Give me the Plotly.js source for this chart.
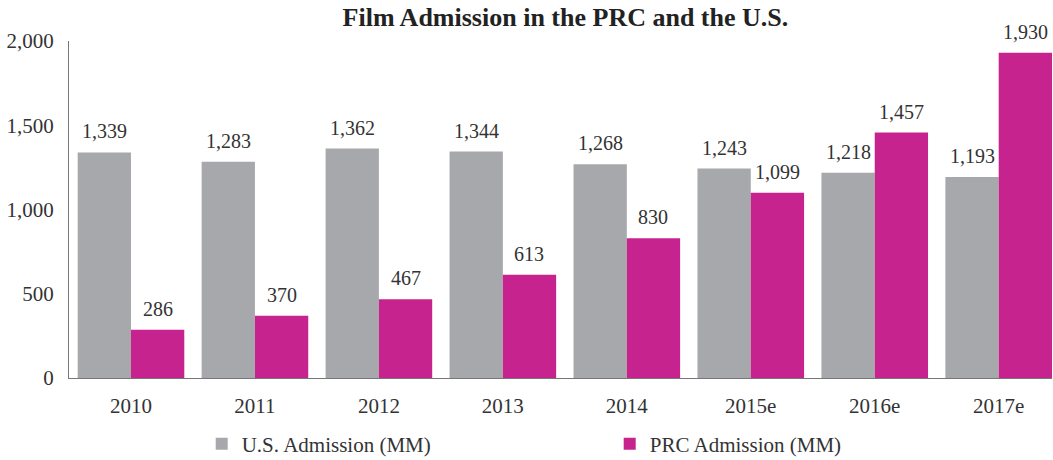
<!DOCTYPE html>
<html>
<head>
<meta charset="utf-8">
<script src="https://cdn.plot.ly/plotly-3.0.1.min.js"></script>
<style>
  html, body { margin: 0; padding: 0; background: #fff; }
  #chart { width: 1053px; height: 460px; }
</style>
</head>
<body>
<div id="chart"></div>
<script>
const years = ['2010', '2011', '2012', '2013', '2014', '2015e', '2016e', '2017e'];
const usAdmission = [1339, 1283, 1362, 1344, 1268, 1243, 1218, 1193];
const prcAdmission = [286, 370, 467, 613, 830, 1099, 1457, 1930];

const fmt = v => v.toLocaleString('en-US');
const serif = 'Liberation Serif';

const traces = [
    {
        name: 'U.S. Admission (MM)',
        type: 'bar',
        x: years,
        y: usAdmission,
        marker: { color: '#a7a8ab' }
    },
    {
        name: 'PRC Admission (MM)',
        type: 'bar',
        x: years,
        y: prcAdmission,
        marker: { color: '#c7238f' }
    }
];

// value labels above each bar; x is the category index (names like '2010'
// would be read as numbers), shifted half a bar width to either side
const half = 26.6;
const labels = [];
years.forEach((yr, i) => {
    labels.push({ x: i, y: usAdmission[i], text: fmt(usAdmission[i]), xshift: -half });
    labels.push({ x: i, y: prcAdmission[i], text: fmt(prcAdmission[i]), xshift: half });
});
const annotations = labels.map(a => Object.assign(a, {
    xref: 'x', yref: 'y',
    showarrow: false,
    yanchor: 'bottom',
    yshift: 8,
    font: { family: serif, size: 20, color: '#333' }
}));

const layout = {
    width: 1053,
    height: 460,
    margin: { l: 69, r: 1, t: 41, b: 82, autoexpand: false },
    paper_bgcolor: '#fff',
    plot_bgcolor: '#fff',
    font: { family: serif, size: 21, color: '#333' },
    title: {
        text: '<b>Film Admission in the PRC and the U.S.</b>',
        font: { family: serif, size: 26, color: '#222' },
        xref: 'paper', x: 0.505, xanchor: 'center',
        yref: 'container', y: 0.982, yanchor: 'top'
    },
    barmode: 'group',
    bargap: 0.14,
    bargroupgap: 0,
    xaxis: {
        type: 'category',
        range: [-0.5, 7.43],
        showline: true,
        linecolor: '#777',
        linewidth: 1,
        ticks: '',
        showgrid: false,
        automargin: false,
        ticklabelstandoff: 9,
        tickfont: { family: serif, size: 21, color: '#333' }
    },
    yaxis: {
        range: [0, 2000],
        tickvals: [0, 500, 1000, 1500, 2000],
        ticktext: ['0', '500', '1,000', '1,500', '2,000'],
        showline: true,
        linecolor: '#777',
        linewidth: 1,
        showgrid: false,
        zeroline: false,
        ticks: '',
        automargin: false,
        ticklabelstandoff: 10,
        tickfont: { family: serif, size: 21, color: '#333' }
    },
    annotations: annotations,
    showlegend: true,
    legend: {
        orientation: 'h',
        x: 0.135, xanchor: 'left',
        y: -0.135, yanchor: 'top',
        entrywidth: 363,
        font: { family: serif, size: 21, color: '#333' }
    }
};

Plotly.newPlot('chart', traces, layout, { displayModeBar: false, staticPlot: true });
</script>
</body>
</html>
